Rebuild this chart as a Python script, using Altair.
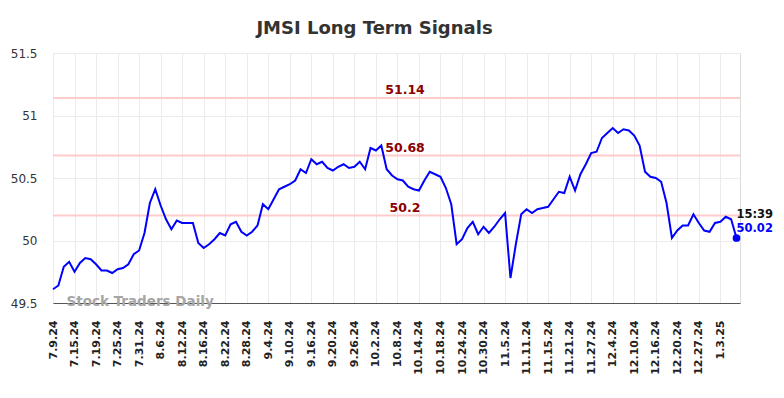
import altair as alt
import pandas as pd

title_text = "JMSI Long Term Signals"

tick_labels = ["7.9.24", "7.15.24", "7.19.24", "7.25.24", "7.31.24", "8.6.24", "8.12.24",
               "8.16.24", "8.22.24", "8.28.24", "9.4.24", "9.10.24", "9.16.24", "9.20.24",
               "9.26.24", "10.2.24", "10.8.24", "10.14.24", "10.18.24", "10.24.24",
               "10.30.24", "11.5.24", "11.11.24", "11.15.24", "11.21.24", "11.27.24",
               "12.4.24", "12.10.24", "12.16.24", "12.20.24", "12.27.24", "1.3.25"]

prices = [49.61, 49.64, 49.79, 49.83, 49.75, 49.82, 49.86, 49.85, 49.81, 49.76,
          49.76, 49.74, 49.77, 49.78, 49.81, 49.89, 49.92, 50.06, 50.30, 50.41,
          50.28, 50.17, 50.09, 50.16, 50.14, 50.14, 50.14, 49.98, 49.94, 49.97,
          50.01, 50.06, 50.04, 50.13, 50.15, 50.07, 50.04, 50.07, 50.12, 50.29,
          50.25, 50.33, 50.41, 50.43, 50.45, 50.48, 50.57, 50.54, 50.65, 50.61,
          50.63, 50.58, 50.56, 50.59, 50.61, 50.58, 50.59, 50.63, 50.57, 50.74,
          50.72, 50.76, 50.57, 50.52, 50.49, 50.48, 50.43, 50.41, 50.40, 50.48,
          50.55, 50.53, 50.51, 50.42, 50.29, 49.97, 50.01, 50.10, 50.15, 50.05,
          50.11, 50.06, 50.11, 50.17, 50.22, 49.70, 49.97, 50.21, 50.25, 50.22,
          50.25, 50.26, 50.27, 50.33, 50.39, 50.38, 50.51, 50.40, 50.53, 50.61,
          50.70, 50.71, 50.82, 50.86, 50.90, 50.86, 50.89, 50.88, 50.84, 50.76,
          50.55, 50.51, 50.50, 50.47, 50.30, 50.02, 50.08, 50.12, 50.12, 50.21,
          50.14, 50.08, 50.07, 50.14, 50.15, 50.19, 50.17, 50.02]

levels = [51.14, 50.68, 50.2]
level_labels = ["51.14", "50.68", "50.2"]

last_time = "15:39"
last_label = "50.02"
watermark = "Stock Traders Daily"

y_ticks = [49.5, 50, 50.5, 51, 51.5]

df = pd.DataFrame({"i": list(range(len(prices))), "v": prices})
lev = pd.DataFrame({"v": levels, "t": level_labels})
last = df.tail(1).assign(tm=last_time, lb=last_label)

tick_pos = [4 * k for k in range(len(tick_labels))]
label_arr = "[" + ",".join("'" + t + "'" for t in tick_labels) + "]"

xs = alt.Scale(domain=[0, 127.65], nice=False, zero=False)
ys = alt.Scale(domain=[49.5, 51.5], nice=False, zero=False)

x_axis = alt.Axis(values=tick_pos, labelExpr=label_arr + "[round(datum.value/4)]",
                  tickCount=100,
                  labelAngle=270, labelFontSize=11, labelFontWeight="bold",
                  labelColor="#222", labelFont="DejaVu Sans", ticks=False,
                  labelOverlap=False, labelFlush=False,
                  labelPadding=17, grid=True, gridColor="#ebebeb", gridWidth=1,
                  domain=True, domainColor="#555", domainWidth=1.2, title=None)
y_axis = alt.Axis(values=y_ticks, labelExpr="toString(datum.value)", labelFontSize=12,
                  labelColor="#333", labelFont="DejaVu Sans", ticks=False,
                  labelOverlap=False, labelFlush=False,
                  labelPadding=16, grid=True, gridColor="#ebebeb", gridWidth=1,
                  domain=False, title=None)

base = alt.Chart(df)

grid_layer = base.mark_line(opacity=0).encode(
    x=alt.X("i:Q", scale=xs, axis=x_axis),
    y=alt.Y("v:Q", scale=ys, axis=y_axis),
)

rules = alt.Chart(lev).mark_rule(color="#ffcccc", strokeWidth=2).encode(
    y=alt.Y("v:Q", scale=ys)
)

rule_text = alt.Chart(lev).mark_text(color="#8b0000", fontWeight="bold", fontSize=12.5,
                                     font="DejaVu Sans", align="center",
                                     baseline="alphabetic", dy=-4).encode(
    x=alt.value(352), y=alt.Y("v:Q", scale=ys), text="t:N"
)

line = base.mark_line(color="#0000ff", strokeWidth=2).encode(
    x=alt.X("i:Q", scale=xs), y=alt.Y("v:Q", scale=ys)
)

dot = alt.Chart(last).mark_circle(color="#0000ff", opacity=1, size=60).encode(
    x=alt.X("i:Q", scale=xs), y=alt.Y("v:Q", scale=ys)
)

t_time = alt.Chart(last).mark_text(color="#111", fontWeight="bold", fontSize=11.5,
                                   font="DejaVu Sans", align="left",
                                   baseline="alphabetic", dx=0, dy=-20).encode(
    x=alt.X("i:Q", scale=xs), y=alt.Y("v:Q", scale=ys), text="tm:N"
)
t_val = alt.Chart(last).mark_text(color="#0000ff", fontWeight="bold", fontSize=11.5,
                                  font="DejaVu Sans", align="left",
                                  baseline="alphabetic", dx=0, dy=-6).encode(
    x=alt.X("i:Q", scale=xs), y=alt.Y("v:Q", scale=ys), text="lb:N"
)

wm = alt.Chart(pd.DataFrame({"t": [watermark]})).mark_text(
    color="#a6a6a6", fontWeight="bold", fontSize=13.5, font="DejaVu Sans",
    align="left", baseline="middle").encode(
    x=alt.value(13.5), y=alt.value(249), text="t:N"
)

chart = alt.layer(grid_layer, rules, rule_text, line, dot, t_time, t_val, wm).properties(
    width=687, height=250,
    title=alt.TitleParams(title_text, fontSize=18, fontWeight="bold", color="#333",
                          font="DejaVu Sans", anchor="middle", dx=-22, offset=9),
    autosize=alt.AutoSizeParams(type="none"),
    padding={"left": 45, "top": 45, "right": 36, "bottom": 80},
).configure_view(stroke=None).configure(background="white")

chart.save("out.html", embed_options={"renderer": "svg", "actions": False})
